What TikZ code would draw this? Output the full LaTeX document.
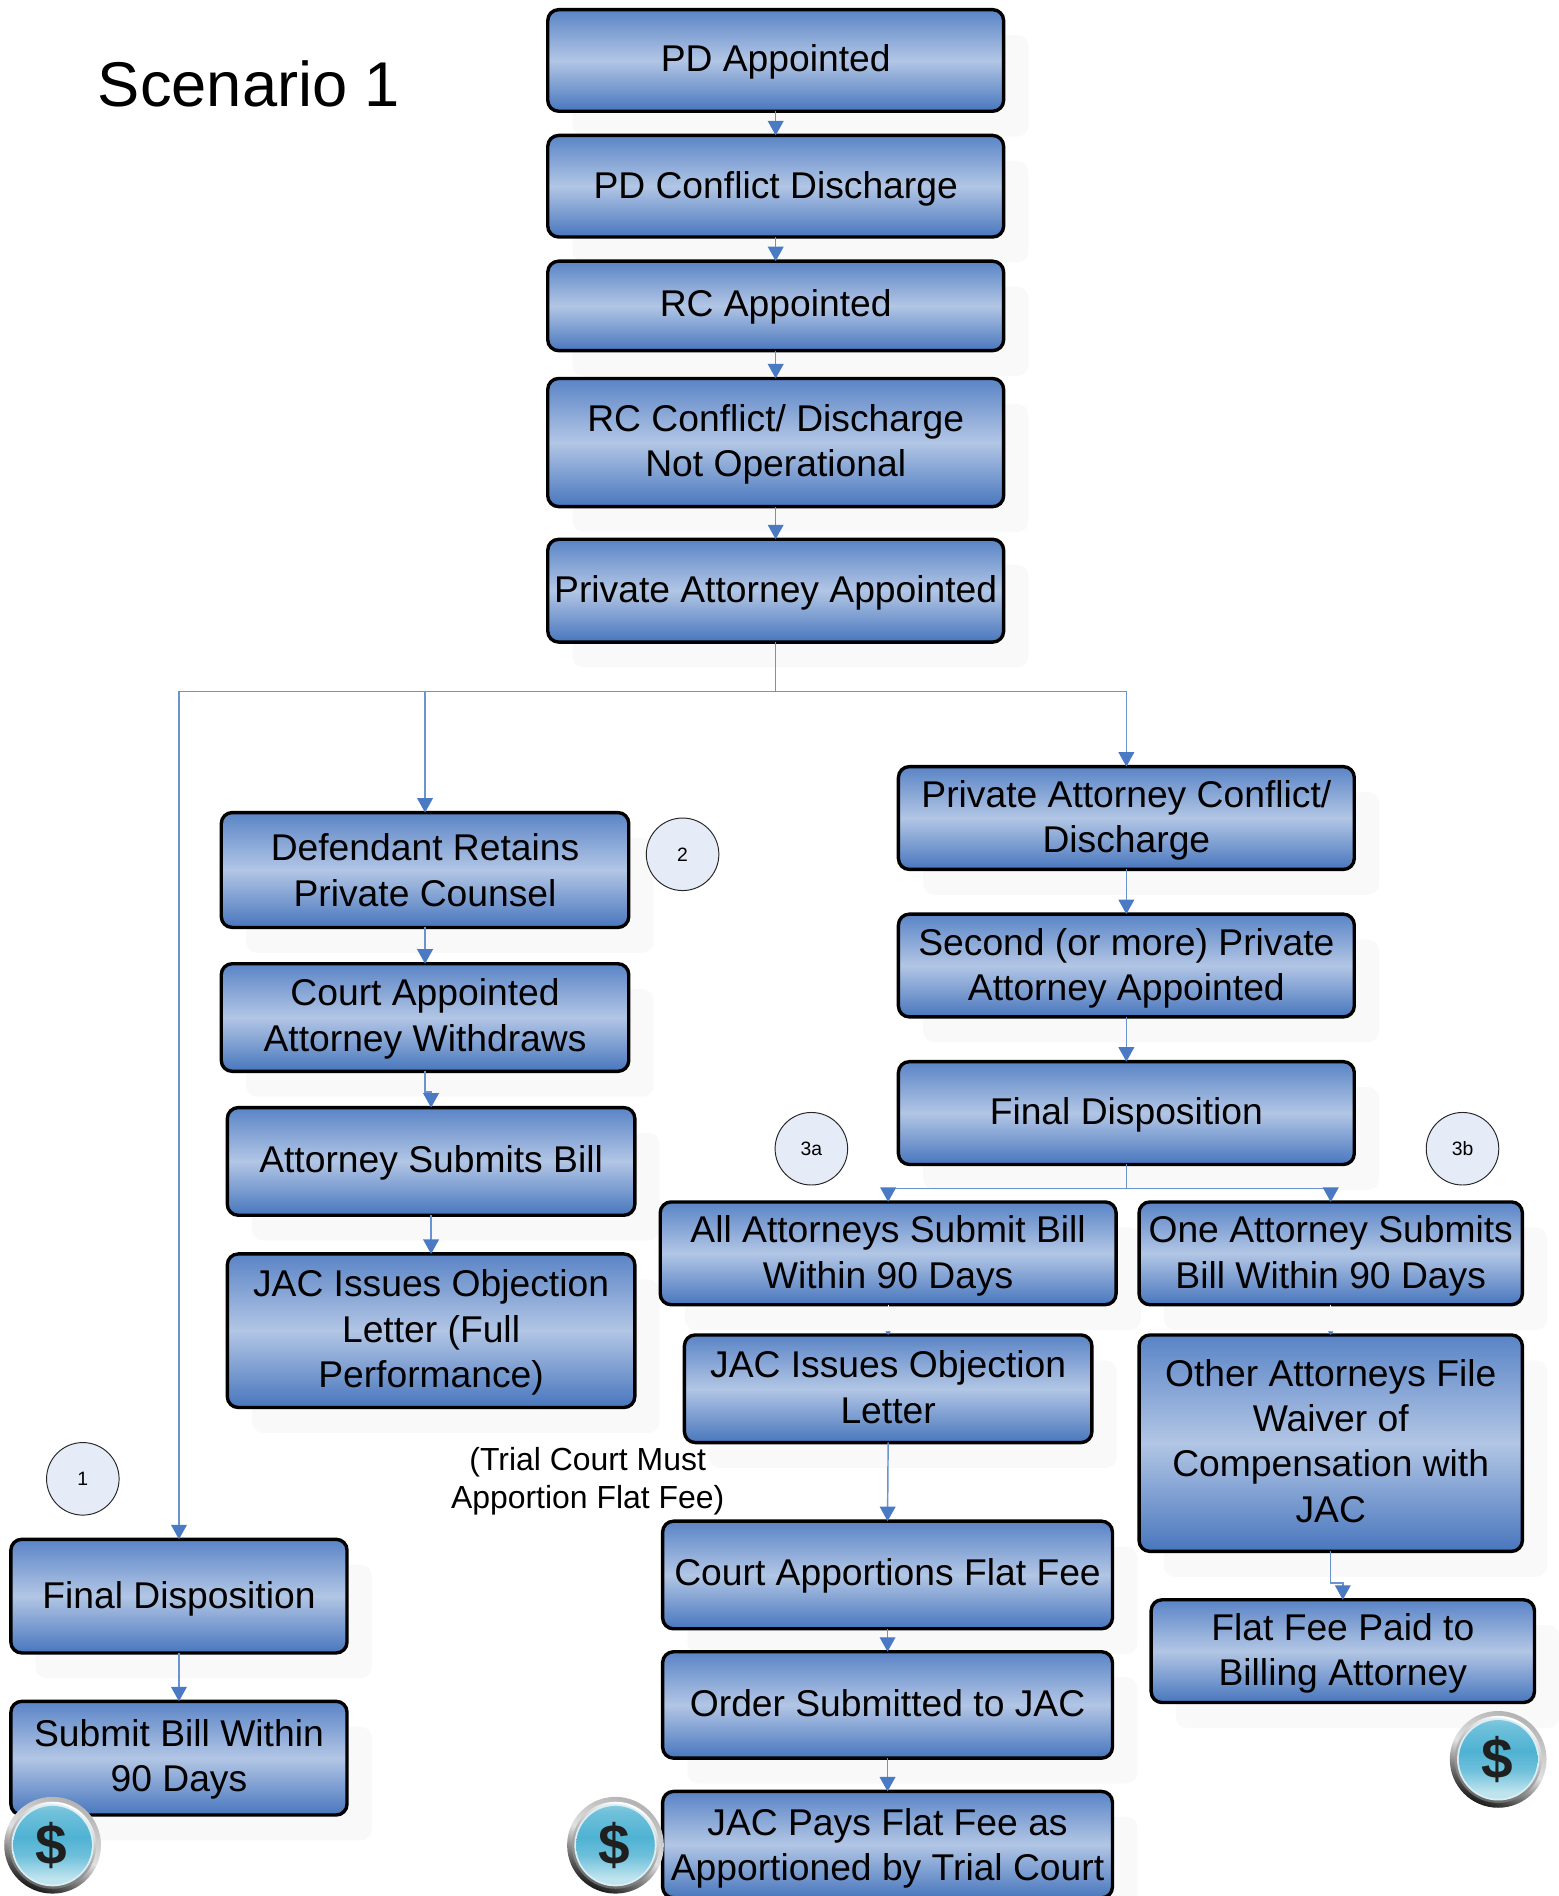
\documentclass[tikz,border=0pt]{standalone}
\usepackage{fontspec}
\setmainfont{Liberation Sans}
\usetikzlibrary{arrows.meta,shadows}
\definecolor{cnc}{HTML}{4A7AC4}
\definecolor{lnc}{HTML}{6A93D0}
\definecolor{boxtop}{HTML}{5A84C6}
\definecolor{boxbot}{HTML}{4876BD}
\definecolor{boxmid}{HTML}{B2C6E5}
\definecolor{shc}{HTML}{F9F9F9}
\definecolor{circ}{HTML}{E6ECF7}
\definecolor{coina}{HTML}{A9D8E5}
\definecolor{coinb}{HTML}{BFE4EE}
\definecolor{coinc}{HTML}{6FC0DB}
\definecolor{coind}{HTML}{4FB2D3}
\pgfdeclareverticalshading{coinface}{66bp}{
  color(0bp)=(coinb); color(12bp)=(coinb); color(26bp)=(coinc); color(38bp)=(coind); color(54bp)=(coinc); color(66bp)=(coina)}
\tikzset{
  bx/.style={draw=black,line width=2.8pt,rounded corners=9pt,inner sep=0pt,outer sep=0pt,
    top color=boxtop,bottom color=boxbot,middle color=boxmid,align=center,text=black,
    font=\fontsize{30.8}{37.5}\selectfont,
    drop shadow={shadow xshift=20.5pt,shadow yshift=-21pt,opacity=1,fill=shc}},
  ln/.style={draw=lnc,line width=1.2pt},
  cn/.style={ln,-{Triangle[length=12pt,width=13pt,color=cnc]}},
  hid/.style={draw=shc,line width=1pt,-{Triangle[length=3pt,width=4.5pt,color=cnc]}},
  tag/.style={circle,draw=black!85,line width=0.8pt,fill=circ,minimum size=60pt,inner sep=0pt,
    font=\fontsize{16}{18}\selectfont},
  note/.style={align=center,inner sep=0pt,font=\fontsize{26.4}{32}\selectfont},
  coin/.style={circle,minimum size=#1,inner sep=0pt,outer sep=0pt}
}
% strut in a first line lowers the text by #1 pt; strut in a last line raises it by half its depth
\newcommand{\txdn}[1]{\rule{0pt}{\dimexpr22.5pt+#1pt+#1pt\relax}}
\newcommand{\txup}[1]{\rule[-#1pt]{0pt}{#1pt}}
\newcommand{\moneyicon}[3]{%
  \node[coin=80pt,top color=black!30,bottom color=black!90,middle color=black!12,shading angle=-25] (#1o) at (#2,#3) {};
  \node[coin=72pt,top color=white,bottom color=black!60,shading angle=-20] (#1r) at (#2,#3) {};
  \node[coin=68pt,fill=coinb!60!white] (#1w) at (#2,#3) {};
  \node[coin=65pt,shading=coinface] (#1i) at (#2,#3) {};
  \node[inner sep=0pt,text=black!88,font=\fontsize{47}{47}\selectfont\bfseries] (#1s) at (#2-1,#3) {\$};
}
\begin{document}
\begin{tikzpicture}[x=1pt,y=-1pt]
\useasboundingbox (0,0) rectangle (1289.2,1568);
\node[inner sep=0pt,font=\fontsize{52.3}{60}\selectfont] (title) at (206,69) {Scenario 1};
% column 1
\node[bx,minimum width=377pt,minimum height=84pt] (pd) at (641.5,50) {\txdn{1}PD Appointed};
\node[bx,minimum width=377pt,minimum height=84pt] (pdc) at (641.5,154) {\txdn{2}PD Conflict Discharge};
\node[bx,minimum width=377pt,minimum height=74pt] (rc) at (641.5,253) {\txdn{1}RC Appointed};
\node[bx,minimum width=377pt,minimum height=106pt] (rcc) at (641.5,366) {\txdn{1.5}RC Conflict/ Discharge\\Not Operational};
\node[bx,minimum width=377pt,minimum height=85pt] (pa) at (641.5,488.5) {\txdn{2}Private Attorney Appointed};
% left
\node[bx,minimum width=337pt,minimum height=95pt] (def) at (351.5,719.5) {Defendant Retains\\Private Counsel};
\node[bx,minimum width=337pt,minimum height=89pt] (caw) at (351.5,841.5) {\txdn{1}Court Appointed\\Attorney Withdraws};
\node[bx,minimum width=337pt,minimum height=89pt] (asb) at (356.5,960.5) {\txdn{1}Attorney Submits Bill};
\node[bx,minimum width=337pt,minimum height=127pt] (jacf) at (356.5,1100.5) {\txdn{1.5}JAC Issues Objection\\Letter (Full\\Performance)};
\node[bx,minimum width=278pt,minimum height=94pt] (fd1) at (148,1320) {\txdn{2}Final Disposition};
\node[bx,minimum width=278pt,minimum height=94pt] (sb) at (148,1454) {\txdn{1}Submit Bill Within\\90 Days};
% right
\node[bx,minimum width=377pt,minimum height=85pt] (pac) at (931.5,676.5) {\txdn{2}Private Attorney Conflict/\\Discharge};
\node[bx,minimum width=377pt,minimum height=85pt] (sec) at (931.5,798.5) {\txdn{2}Second (or more) Private\\Attorney Appointed};
\node[bx,minimum width=377pt,minimum height=85pt] (fd2) at (931.5,920.5) {\txdn{1}Final Disposition};
\node[bx,minimum width=377pt,minimum height=85pt] (all) at (734.5,1036.5) {\txdn{2}All Attorneys Submit Bill\\Within 90 Days};
\node[bx,minimum width=317pt,minimum height=85pt] (one) at (1100.5,1036.5) {\txdn{2}One Attorney Submits\\Bill Within 90 Days};
\node[bx,minimum width=337pt,minimum height=89pt] (jacl) at (734.5,1148.5) {JAC Issues Objection\\Letter\txup{3}};
\node[bx,minimum width=317pt,minimum height=179pt] (oth) at (1100.5,1193.5) {Other Attorneys File\\Waiver of\\Compensation with\\JAC\txup{4}};
\node[bx,minimum width=317pt,minimum height=85pt] (ff) at (1110.5,1365.5) {\txdn{2}Flat Fee Paid to\\Billing Attorney};
\node[bx,minimum width=372pt,minimum height=89pt] (cap) at (734,1302.5) {\txdn{1}Court Apportions Flat Fee};
\node[bx,minimum width=372pt,minimum height=88pt] (ord) at (734,1410) {Order Submitted to JAC\txup{4}};
\node[bx,minimum width=372pt,minimum height=88pt] (pay) at (734,1525.5) {\txdn{3}JAC Pays Flat Fee as\\Apportioned by Trial Court};
% tags and note
\node[tag] (t2) at (564.5,706.5) {2};
\node[tag] (t3a) at (671,950) {3a};
\node[tag] (t3b) at (1209.5,950) {3b};
\node[tag] (t1) at (68.5,1223) {1};
\node[note] (trial) at (486,1225) {(Trial Court Must\\Apportion Flat Fee)};
% connectors
\draw[cn] (pd.south) -- (pdc.north);
\draw[cn] (pdc.south) -- (rc.north);
\draw[cn] (rc.south) -- (rcc.north);
\draw[cn] (rcc.south) -- (pa.north);
\coordinate (br) at (641.5,572);
\draw[ln] (pa.south) -- (br);
\draw[cn] (br) -| (fd1.north);
\draw[cn] (br) -| (def.north);
\draw[cn] (br) -| (pac.north);
\draw[cn] (def.south) -- (caw.north);
\coordinate (e1) at (351.5,903);
\draw[cn] (caw.south) -- (e1) -| (asb.north);
\draw[cn] (asb.south) -- (jacf.north);
\draw[cn] (fd1.south) -- (sb.north);
\draw[cn] (pac.south) -- (sec.north);
\draw[cn] (sec.south) -- (fd2.north);
\coordinate (br2) at (931.5,983);
\draw[ln] (fd2.south) -- (br2);
\draw[cn] (br2) -| (all.north);
\draw[cn] (br2) -| (one.north);
\draw[hid] (all.south) -- (jacl.north);
\draw[hid] (one.south) -- (oth.north);
\draw[cn] (jacl.south) -- (cap.north);
\draw[cn] (cap.south) -- (ord.north);
\draw[cn] (ord.south) -- (pay.north);
\coordinate (e2) at (1100.5,1309);
\draw[cn] (oth.south) -- (e2) -| (ff.north);
% icons
\moneyicon{ma}{43.5}{1526}
\moneyicon{mb}{509}{1526}
\moneyicon{mc}{1239}{1455}
\end{tikzpicture}
\end{document}
